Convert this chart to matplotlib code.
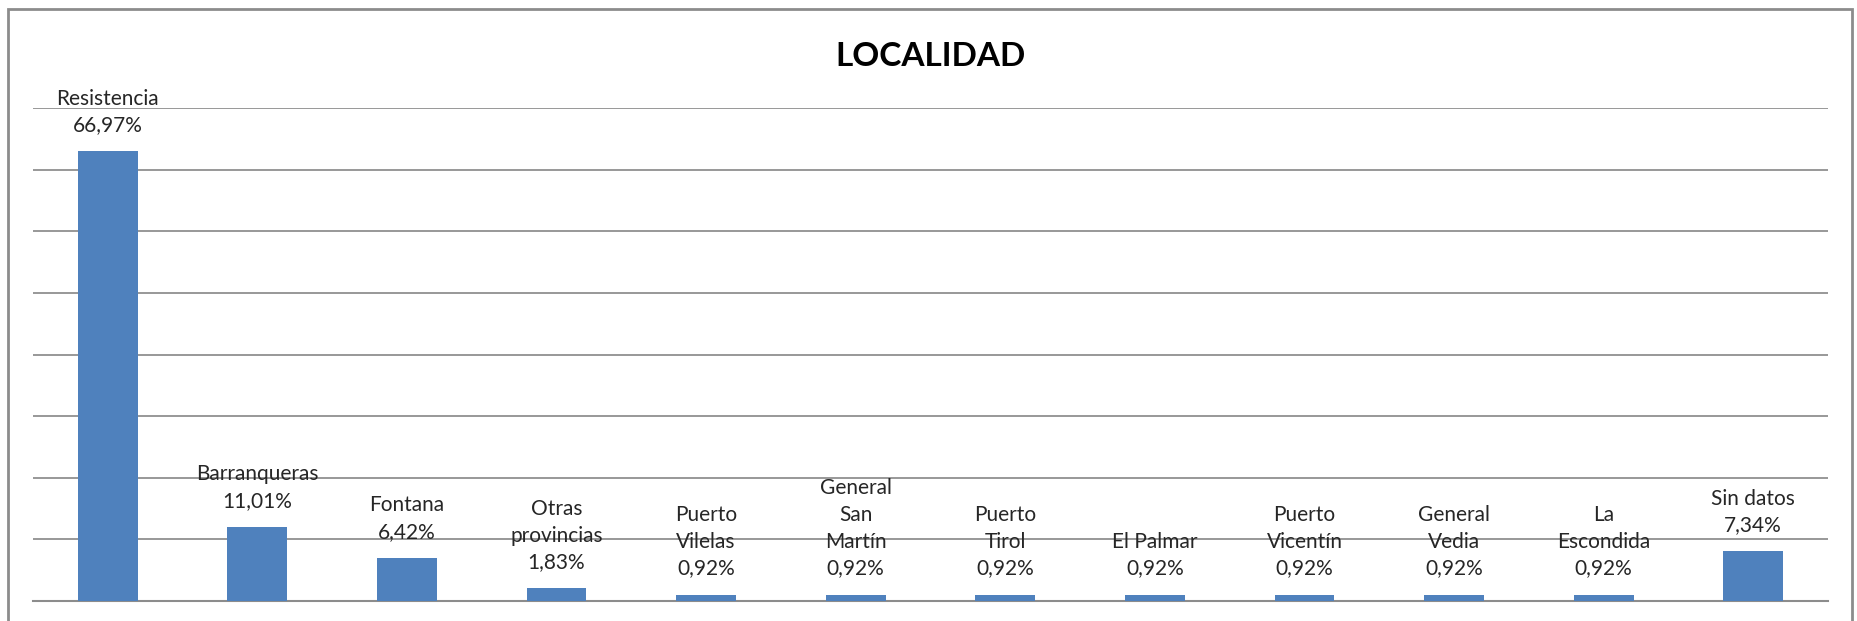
import numpy as np
import matplotlib.pyplot as plt
from matplotlib.patches import Rectangle

# category labels (wrapped as in the original chart) and counts
names = ['Resistencia', 'Barranqueras', 'Fontana', 'Otras\nprovincias',
         'Puerto\nVilelas', 'General\nSan\nMartín', 'Puerto\nTirol',
         'El Palmar', 'Puerto\nVicentín', 'General\nVedia',
         'La\nEscondida', 'Sin datos']
counts = [73, 12, 7, 2, 1, 1, 1, 1, 1, 1, 1, 8]

total = sum(counts)
pct = [c / total * 100 for c in counts]

plt.rcParams['font.family'] = ['Lato', 'DejaVu Sans']

fig = plt.figure(figsize=(18.57, 6.21), dpi=100)
ax = fig.add_axes([33 / 1857, 1 - 600.7 / 621, 1795 / 1857, (600.7 - 108.3) / 621])

x = np.arange(len(counts))
bars = ax.bar(x, counts, width=0.4, color='#4F81BD', zorder=3)

for xi, c, n, p in zip(x, counts, names, pct):
    lbl = n + '\n' + ('%.2f' % p).replace('.', ',') + '%'
    ax.annotate(lbl, (xi, c), xytext=(0, 11.5), textcoords='offset points',
                ha='center', va='bottom', fontsize=15, color='#262626',
                linespacing=1.42, annotation_clip=False, zorder=4)

ax.set_xlim(-0.5, len(counts) - 0.5)
ax.set_ylim(0, 80)
ax.set_yticks(np.arange(0, 81, 10))
ax.yaxis.grid(True, color='#868686', linewidth=1.2, zorder=0)
ax.set_xticks([])
ax.tick_params(left=False, labelleft=False)
for s in ['top', 'right', 'left']:
    ax.spines[s].set_visible(False)
ax.spines['bottom'].set_color('#8c8c8c')
ax.spines['bottom'].set_linewidth(1.5)

fig.text(931 / 1857, 1 - 56.5 / 621, 'LOCALIDAD', ha='center', va='center',
         fontsize=24, fontweight='bold', color='black')

# chart frame
fig.patches.append(Rectangle((8 / 1857, -0.05), 1844 / 1857, 1.05 - 9 / 621,
                             transform=fig.transFigure, fill=False,
                             edgecolor='#8c8c8c', linewidth=2))

fig.savefig('out.png', dpi=100)
